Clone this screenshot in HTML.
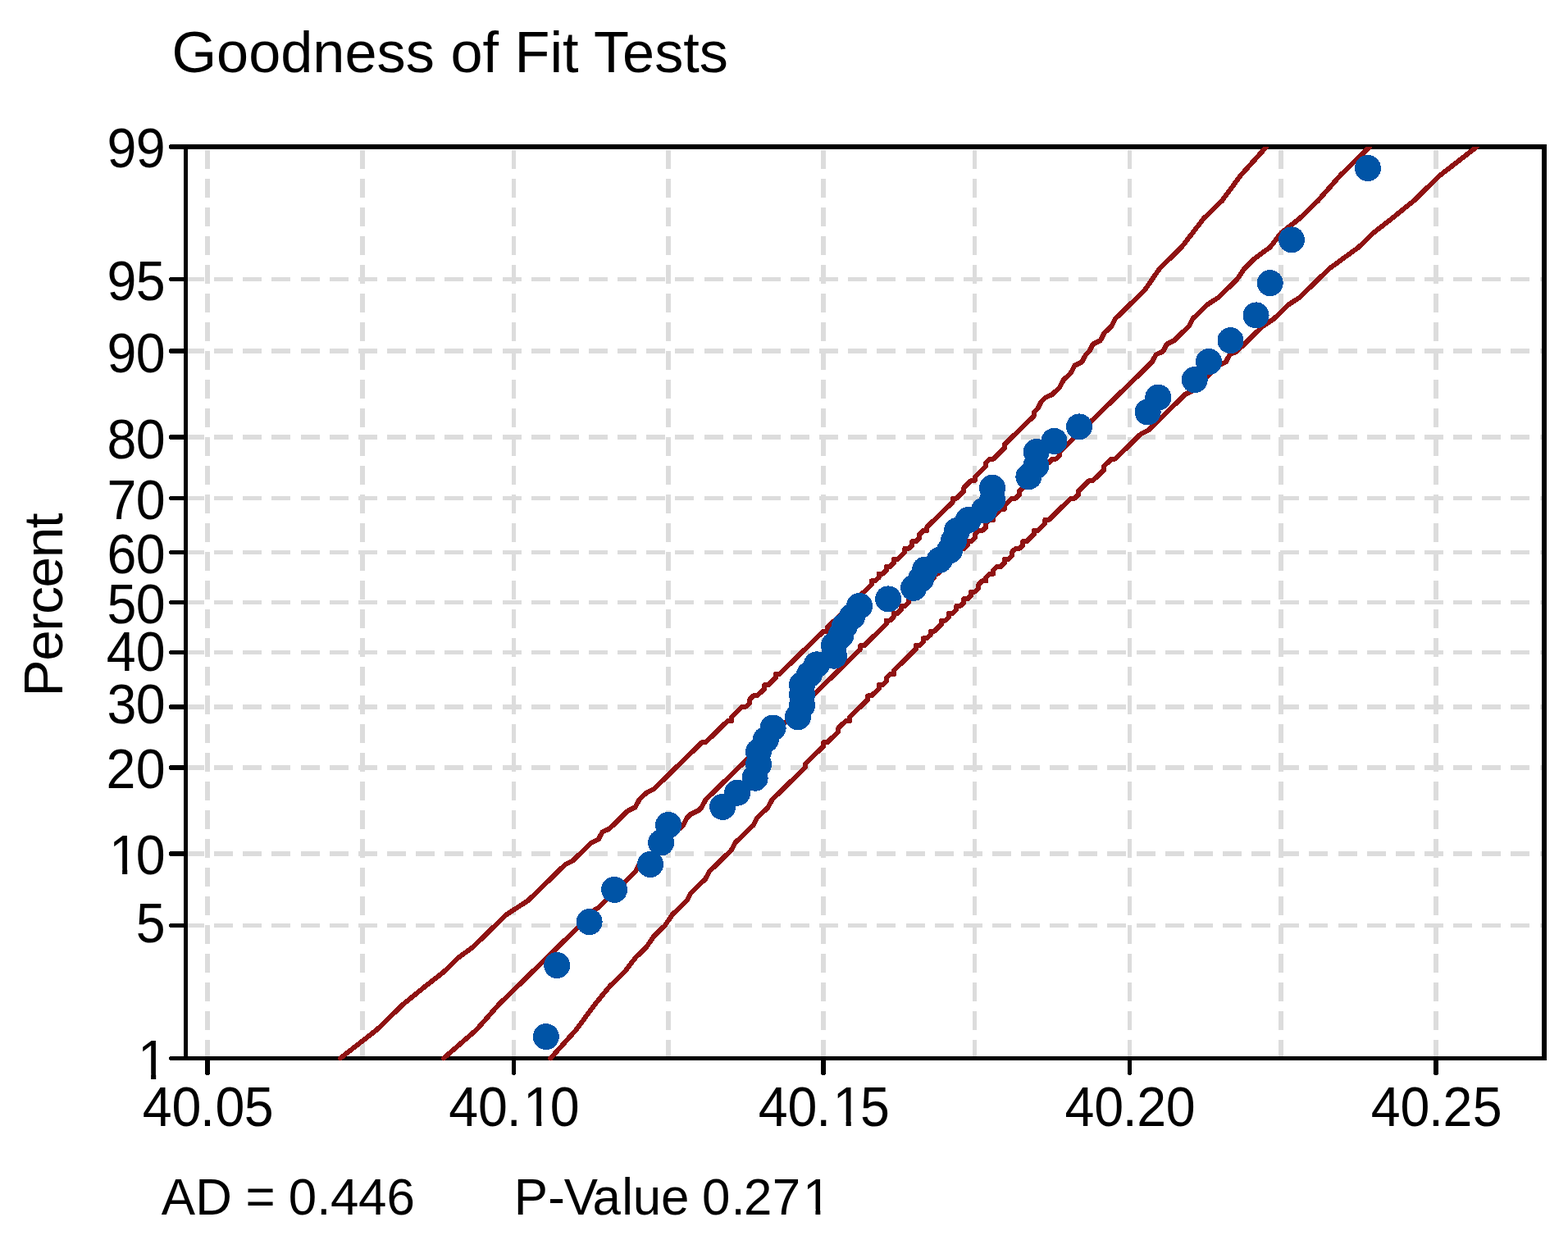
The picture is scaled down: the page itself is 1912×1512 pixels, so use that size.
<!DOCTYPE html>
<html><head><meta charset="utf-8"><title>Goodness of Fit Tests</title>
<style>
html,body{margin:0;padding:0;background:#fff;}
svg{display:block;font-family:"Liberation Sans",sans-serif;font-kerning:normal;}
</style></head><body>
<svg width="1912" height="1512" viewBox="0 0 1912 1512">
<rect width="1912" height="1512" fill="#fff"/>

<g stroke="#dcdcdc" fill="none" shape-rendering="crispEdges">
<line x1="253.0" y1="183" x2="253.0" y2="1290" stroke-width="6" stroke-dasharray="23 12"/>
<line x1="442.0" y1="183" x2="442.0" y2="1290" stroke-width="6" stroke-dasharray="23 12"/>
<line x1="626.5" y1="183" x2="626.5" y2="1290" stroke-width="5" stroke-dasharray="23 12"/>
<line x1="815.0" y1="183" x2="815.0" y2="1290" stroke-width="6" stroke-dasharray="23 12"/>
<line x1="1004.0" y1="183" x2="1004.0" y2="1290" stroke-width="6" stroke-dasharray="23 12"/>
<line x1="1188.5" y1="183" x2="1188.5" y2="1290" stroke-width="5" stroke-dasharray="23 12"/>
<line x1="1377.5" y1="183" x2="1377.5" y2="1290" stroke-width="5" stroke-dasharray="23 12"/>
<line x1="1562.0" y1="183" x2="1562.0" y2="1290" stroke-width="6" stroke-dasharray="23 12"/>
<line x1="1751.0" y1="183" x2="1751.0" y2="1290" stroke-width="6" stroke-dasharray="23 12"/>
<line x1="226" y1="340.5" x2="1883" y2="340.5" stroke-width="5" stroke-dasharray="23 12.14"/>
<line x1="226" y1="428.0" x2="1883" y2="428.0" stroke-width="6" stroke-dasharray="23 12.14"/>
<line x1="226" y1="533.0" x2="1883" y2="533.0" stroke-width="6" stroke-dasharray="23 12.14"/>
<line x1="226" y1="607.5" x2="1883" y2="607.5" stroke-width="5" stroke-dasharray="23 12.14"/>
<line x1="226" y1="673.5" x2="1883" y2="673.5" stroke-width="5" stroke-dasharray="23 12.14"/>
<line x1="226" y1="734.5" x2="1883" y2="734.5" stroke-width="5" stroke-dasharray="23 12.14"/>
<line x1="226" y1="795.5" x2="1883" y2="795.5" stroke-width="5" stroke-dasharray="23 12.14"/>
<line x1="226" y1="862.0" x2="1883" y2="862.0" stroke-width="6" stroke-dasharray="23 12.14"/>
<line x1="226" y1="936.0" x2="1883" y2="936.0" stroke-width="6" stroke-dasharray="23 12.14"/>
<line x1="226" y1="1041.0" x2="1883" y2="1041.0" stroke-width="6" stroke-dasharray="23 12.14"/>
<line x1="226" y1="1128.5" x2="1883" y2="1128.5" stroke-width="5" stroke-dasharray="23 12.14"/>
</g>
<g fill="#000" shape-rendering="crispEdges">
<rect x="224" y="176" width="1662" height="6"/>
<rect x="224" y="1288" width="1662" height="5"/>
<rect x="224" y="176" width="5" height="1117"/>
<rect x="1880" y="176" width="6" height="1117"/>
</g>
<g stroke="#000" fill="none" stroke-linecap="round" shape-rendering="crispEdges">
<line x1="208.5" y1="340.5" x2="226" y2="340.5" stroke-width="5"/>
<line x1="209.0" y1="428.0" x2="226" y2="428.0" stroke-width="6"/>
<line x1="209.0" y1="533.0" x2="226" y2="533.0" stroke-width="6"/>
<line x1="208.5" y1="607.5" x2="226" y2="607.5" stroke-width="5"/>
<line x1="208.5" y1="673.5" x2="226" y2="673.5" stroke-width="5"/>
<line x1="208.5" y1="734.5" x2="226" y2="734.5" stroke-width="5"/>
<line x1="208.5" y1="795.5" x2="226" y2="795.5" stroke-width="5"/>
<line x1="209.0" y1="862.0" x2="226" y2="862.0" stroke-width="6"/>
<line x1="209.0" y1="936.0" x2="226" y2="936.0" stroke-width="6"/>
<line x1="209.0" y1="1041.0" x2="226" y2="1041.0" stroke-width="6"/>
<line x1="208.5" y1="1128.5" x2="226" y2="1128.5" stroke-width="5"/>
<line x1="209.0" y1="179.0" x2="226" y2="179.0" stroke-width="6"/>
<line x1="208.5" y1="1290.5" x2="226" y2="1290.5" stroke-width="5"/>
<line x1="253.0" y1="1292" x2="253.0" y2="1308.0" stroke-width="6"/>
<line x1="626.5" y1="1292" x2="626.5" y2="1308.5" stroke-width="5"/>
<line x1="1004.0" y1="1292" x2="1004.0" y2="1308.0" stroke-width="6"/>
<line x1="1377.5" y1="1292" x2="1377.5" y2="1308.5" stroke-width="5"/>
<line x1="1751.0" y1="1292" x2="1751.0" y2="1308.0" stroke-width="6"/>
</g>
<clipPath id="pc"><rect x="226.6" y="179.0" width="1656.4" height="1114.2"/></clipPath>
<g clip-path="url(#pc)" shape-rendering="crispEdges" stroke="#8f1212" stroke-width="6" fill="none" stroke-linejoin="round" stroke-linecap="round">
<path d="M414.8,1290.5 L459.8,1255.4 L491.3,1224.8 L518.3,1202.9 L540.8,1185.4 L558.8,1167.9 L576.8,1154.7 L590.3,1141.6 L603.8,1128.5 L617.3,1115.4 L630.8,1106.6 L644.3,1097.8 L653.3,1089.1 L662.3,1080.3 L671.3,1071.6 L680.3,1062.8 L689.3,1054.1 L698.3,1049.7 L707.3,1041.0 L711.8,1036.6 L720.8,1027.8 L729.8,1023.5 L734.3,1014.7 L743.3,1010.3 L747.8,1006.0 L756.8,997.2 L761.3,992.8 L765.8,988.5 L774.8,984.1 L779.3,975.3 L783.8,970.9 L788.3,966.6 L797.3,962.2 L801.8,957.8 L806.3,953.4 L810.8,949.1 L815.3,944.7 L819.8,940.3 L824.3,935.9 L828.8,931.6 L833.3,927.2 L837.8,922.8 L842.3,918.4 L846.8,914.1 L851.3,909.7 L855.8,905.3 L860.3,905.3 L864.8,900.9 L869.3,896.6 L873.8,892.2 L878.3,887.8 L882.8,883.4 L887.3,879.1 L891.8,879.1 L891.8,874.7 L896.3,870.3 L900.8,865.9 L905.3,861.5 L909.8,861.5 L914.3,857.2 L914.3,852.8 L918.8,848.4 L923.3,848.4 L927.8,844.0 L932.3,839.7 L932.3,835.3 L936.8,835.3 L941.3,830.9 L945.8,826.5 L945.8,822.2 L950.3,822.2 L954.8,817.8 L959.3,813.4 L963.8,809.0 L968.3,804.7 L972.8,800.3 L977.3,795.9 L981.8,791.5 L986.3,787.2 L990.8,782.8 L995.3,778.4 L999.8,774.0 L1004.3,769.7 L1008.8,769.7 L1008.8,765.3 L1013.3,760.9 L1017.8,756.5 L1022.3,752.1 L1026.8,747.8 L1031.3,743.4 L1035.8,739.0 L1040.3,734.6 L1044.8,730.3 L1049.3,725.9 L1053.8,721.5 L1058.3,717.1 L1062.8,712.8 L1062.8,708.4 L1067.3,708.4 L1071.8,704.0 L1071.8,699.6 L1076.3,699.6 L1080.8,695.3 L1080.8,690.9 L1085.3,690.9 L1089.8,686.5 L1089.8,682.1 L1094.3,682.1 L1098.8,677.8 L1103.3,673.4 L1103.3,669.0 L1107.8,669.0 L1112.3,664.6 L1112.3,660.3 L1116.8,660.3 L1121.3,655.9 L1121.3,651.5 L1125.8,647.1 L1130.3,647.1 L1130.3,642.7 L1134.8,638.4 L1139.3,634.0 L1143.8,629.6 L1148.3,625.2 L1152.8,620.9 L1157.3,616.5 L1161.8,612.1 L1161.8,607.7 L1166.3,607.7 L1170.8,603.4 L1175.3,599.0 L1175.3,594.6 L1179.8,590.2 L1184.3,585.9 L1188.8,585.9 L1188.8,581.5 L1193.3,577.1 L1197.8,572.7 L1202.3,568.4 L1202.3,564.0 L1206.8,559.6 L1211.3,559.6 L1215.8,555.2 L1220.3,550.9 L1224.8,546.5 L1224.8,542.1 L1229.3,537.7 L1233.8,533.3 L1238.3,529.0 L1242.8,524.6 L1247.3,520.2 L1251.8,515.8 L1256.3,511.5 L1260.8,507.1 L1260.8,502.7 L1265.3,498.3 L1269.8,489.6 L1274.3,485.2 L1283.3,480.8 L1287.8,476.5 L1292.3,472.1 L1296.8,463.3 L1301.3,459.0 L1305.8,454.6 L1310.3,445.8 L1319.3,441.5 L1323.8,432.7 L1328.3,428.3 L1332.8,419.6 L1341.8,415.2 L1346.3,406.4 L1355.3,397.7 L1359.8,388.9 L1368.8,380.2 L1377.8,371.4 L1386.8,362.7 L1395.8,353.9 L1404.8,340.8 L1413.8,327.7 L1427.3,314.5 L1440.8,301.4 L1454.3,283.9 L1467.8,266.4 L1490.3,244.5 L1512.8,213.9 L1544.3,179.0"/>
<path d="M540.8,1290.5 L581.3,1255.4 L608.3,1224.8 L630.8,1202.9 L648.8,1185.4 L666.8,1167.9 L680.3,1154.7 L693.8,1141.6 L707.3,1128.5 L716.3,1115.4 L729.8,1106.6 L738.8,1097.8 L747.8,1089.1 L756.8,1080.3 L765.8,1071.6 L774.8,1062.8 L779.3,1054.1 L788.3,1049.7 L797.3,1041.0 L801.8,1036.6 L810.8,1027.8 L815.3,1023.5 L819.8,1014.7 L828.8,1010.3 L833.3,1006.0 L837.8,997.2 L842.3,992.8 L851.3,988.5 L855.8,984.1 L860.3,975.3 L864.8,970.9 L869.3,966.6 L873.8,962.2 L878.3,957.8 L882.8,953.4 L887.3,949.1 L891.8,944.7 L896.3,940.3 L900.8,935.9 L905.3,931.6 L909.8,927.2 L914.3,922.8 L918.8,918.4 L923.3,914.1 L927.8,909.7 L932.3,905.3 L936.8,905.3 L936.8,900.9 L941.3,896.6 L945.8,892.2 L950.3,887.8 L954.8,883.4 L959.3,879.1 L963.8,874.7 L968.3,870.3 L972.8,865.9 L977.3,861.5 L981.8,857.2 L986.3,852.8 L990.8,848.4 L995.3,844.0 L999.8,839.7 L1004.3,835.3 L1008.8,830.9 L1013.3,826.5 L1017.8,822.2 L1022.3,817.8 L1026.8,813.4 L1031.3,809.0 L1035.8,804.7 L1040.3,800.3 L1044.8,795.9 L1049.3,791.5 L1049.3,787.2 L1053.8,787.2 L1058.3,782.8 L1062.8,778.4 L1067.3,774.0 L1071.8,769.7 L1076.3,765.3 L1080.8,760.9 L1080.8,756.5 L1085.3,756.5 L1089.8,752.1 L1089.8,747.8 L1094.3,747.8 L1098.8,743.4 L1098.8,739.0 L1103.3,739.0 L1107.8,734.6 L1107.8,730.3 L1112.3,730.3 L1116.8,725.9 L1116.8,721.5 L1121.3,721.5 L1125.8,717.1 L1125.8,712.8 L1130.3,708.4 L1134.8,708.4 L1139.3,704.0 L1139.3,699.6 L1143.8,699.6 L1148.3,695.3 L1148.3,690.9 L1152.8,690.9 L1157.3,686.5 L1157.3,682.1 L1161.8,682.1 L1166.3,677.8 L1166.3,673.4 L1170.8,669.0 L1175.3,669.0 L1179.8,664.6 L1179.8,660.3 L1184.3,660.3 L1188.8,655.9 L1188.8,651.5 L1193.3,647.1 L1197.8,647.1 L1202.3,642.7 L1202.3,638.4 L1206.8,634.0 L1211.3,634.0 L1211.3,629.6 L1215.8,625.2 L1220.3,620.9 L1224.8,620.9 L1224.8,616.5 L1229.3,612.1 L1233.8,607.7 L1238.3,607.7 L1242.8,603.4 L1242.8,599.0 L1247.3,594.6 L1251.8,590.2 L1256.3,585.9 L1260.8,585.9 L1260.8,581.5 L1265.3,577.1 L1269.8,572.7 L1274.3,568.4 L1278.8,564.0 L1283.3,559.6 L1287.8,559.6 L1292.3,555.2 L1292.3,550.9 L1296.8,546.5 L1301.3,542.1 L1305.8,537.7 L1310.3,533.3 L1314.8,529.0 L1319.3,524.6 L1323.8,520.2 L1328.3,515.8 L1332.8,511.5 L1337.3,507.1 L1341.8,502.7 L1346.3,498.3 L1355.3,489.6 L1359.8,485.2 L1364.3,480.8 L1368.8,476.5 L1373.3,472.1 L1382.3,463.3 L1386.8,459.0 L1391.3,454.6 L1400.3,445.8 L1404.8,441.5 L1409.3,432.7 L1418.3,428.3 L1422.8,419.6 L1431.8,415.2 L1440.8,406.4 L1449.8,397.7 L1454.3,388.9 L1463.3,380.2 L1472.3,371.4 L1485.8,362.7 L1494.8,353.9 L1508.3,340.8 L1517.3,327.7 L1530.8,314.5 L1548.8,301.4 L1562.3,283.9 L1584.8,266.4 L1607.3,244.5 L1634.3,213.9 L1670.3,179.0"/>
<path d="M671.3,1290.5 L702.8,1255.4 L725.3,1224.8 L743.3,1202.9 L761.3,1185.4 L774.8,1167.9 L788.3,1154.7 L797.3,1141.6 L810.8,1128.5 L819.8,1115.4 L828.8,1106.6 L837.8,1097.8 L842.3,1089.1 L851.3,1080.3 L860.3,1071.6 L864.8,1062.8 L873.8,1054.1 L878.3,1049.7 L887.3,1041.0 L891.8,1036.6 L896.3,1027.8 L900.8,1023.5 L909.8,1014.7 L914.3,1010.3 L918.8,1006.0 L923.3,997.2 L927.8,992.8 L932.3,988.5 L936.8,984.1 L941.3,975.3 L945.8,970.9 L950.3,966.6 L954.8,962.2 L959.3,957.8 L963.8,953.4 L968.3,949.1 L972.8,944.7 L977.3,940.3 L981.8,935.9 L981.8,931.6 L986.3,927.2 L990.8,922.8 L995.3,918.4 L999.8,914.1 L1004.3,909.7 L1004.3,905.3 L1008.8,905.3 L1013.3,900.9 L1017.8,896.6 L1022.3,892.2 L1022.3,887.8 L1026.8,883.4 L1031.3,879.1 L1035.8,879.1 L1035.8,874.7 L1040.3,870.3 L1044.8,865.9 L1049.3,861.5 L1053.8,857.2 L1058.3,852.8 L1058.3,848.4 L1062.8,848.4 L1067.3,844.0 L1071.8,839.7 L1071.8,835.3 L1076.3,835.3 L1080.8,830.9 L1080.8,826.5 L1085.3,822.2 L1089.8,822.2 L1089.8,817.8 L1094.3,813.4 L1098.8,809.0 L1103.3,804.7 L1107.8,800.3 L1112.3,795.9 L1116.8,791.5 L1116.8,787.2 L1121.3,787.2 L1125.8,782.8 L1125.8,778.4 L1130.3,778.4 L1134.8,774.0 L1134.8,769.7 L1139.3,769.7 L1143.8,765.3 L1148.3,760.9 L1148.3,756.5 L1152.8,756.5 L1157.3,752.1 L1157.3,747.8 L1161.8,747.8 L1166.3,743.4 L1166.3,739.0 L1170.8,739.0 L1175.3,734.6 L1175.3,730.3 L1179.8,730.3 L1184.3,725.9 L1184.3,721.5 L1188.8,721.5 L1193.3,717.1 L1193.3,712.8 L1197.8,708.4 L1202.3,708.4 L1202.3,704.0 L1206.8,699.6 L1211.3,699.6 L1211.3,695.3 L1215.8,690.9 L1220.3,690.9 L1224.8,686.5 L1224.8,682.1 L1229.3,682.1 L1233.8,677.8 L1233.8,673.4 L1238.3,669.0 L1242.8,669.0 L1247.3,664.6 L1247.3,660.3 L1251.8,660.3 L1256.3,655.9 L1260.8,651.5 L1260.8,647.1 L1265.3,647.1 L1269.8,642.7 L1274.3,638.4 L1274.3,634.0 L1278.8,634.0 L1283.3,629.6 L1287.8,625.2 L1292.3,620.9 L1296.8,616.5 L1301.3,612.1 L1305.8,607.7 L1310.3,607.7 L1314.8,603.4 L1314.8,599.0 L1319.3,594.6 L1323.8,590.2 L1328.3,585.9 L1332.8,585.9 L1337.3,581.5 L1341.8,577.1 L1346.3,572.7 L1346.3,568.4 L1350.8,564.0 L1355.3,559.6 L1359.8,559.6 L1364.3,555.2 L1368.8,550.9 L1373.3,546.5 L1377.8,542.1 L1382.3,537.7 L1386.8,533.3 L1391.3,529.0 L1400.3,524.6 L1404.8,520.2 L1409.3,515.8 L1413.8,511.5 L1418.3,507.1 L1422.8,502.7 L1427.3,498.3 L1436.3,489.6 L1440.8,485.2 L1445.3,480.8 L1454.3,476.5 L1458.8,472.1 L1463.3,463.3 L1472.3,459.0 L1476.8,454.6 L1485.8,445.8 L1494.8,441.5 L1499.3,432.7 L1508.3,428.3 L1517.3,419.6 L1521.8,415.2 L1530.8,406.4 L1539.8,397.7 L1553.3,388.9 L1562.3,380.2 L1571.3,371.4 L1584.8,362.7 L1593.8,353.9 L1607.3,340.8 L1620.8,327.7 L1638.8,314.5 L1656.8,301.4 L1674.8,283.9 L1697.3,266.4 L1724.3,244.5 L1755.8,213.9 L1800.8,179.0"/>
</g>
<g fill="#0054a6" shape-rendering="crispEdges">
<circle cx="665.9" cy="1264.1" r="16"/>
<circle cx="679.2" cy="1177" r="16"/>
<circle cx="718.6" cy="1124.1" r="16"/>
<circle cx="749.1" cy="1084.9" r="16"/>
<circle cx="793" cy="1053.9" r="16"/>
<circle cx="806.1" cy="1027.5" r="16"/>
<circle cx="815.1" cy="1006" r="16"/>
<circle cx="881.1" cy="983.9" r="16"/>
<circle cx="899.1" cy="966.7" r="16"/>
<circle cx="920.6" cy="948.7" r="16"/>
<circle cx="925" cy="932.2" r="16"/>
<circle cx="925" cy="916.6" r="16"/>
<circle cx="933.9" cy="901.7" r="16"/>
<circle cx="942.6" cy="887.5" r="16"/>
<circle cx="973" cy="874.3" r="16"/>
<circle cx="978" cy="860.3" r="16"/>
<circle cx="978" cy="847.3" r="16"/>
<circle cx="978" cy="834.7" r="16"/>
<circle cx="987" cy="822.4" r="16"/>
<circle cx="996" cy="810.3" r="16"/>
<circle cx="1017" cy="799.7" r="16"/>
<circle cx="1017" cy="786.6" r="16"/>
<circle cx="1025.3" cy="774.9" r="16"/>
<circle cx="1030" cy="763.4" r="16"/>
<circle cx="1039.1" cy="751.9" r="16"/>
<circle cx="1048.1" cy="738.9" r="16"/>
<circle cx="1083.1" cy="730.4" r="16"/>
<circle cx="1114.2" cy="716.8" r="16"/>
<circle cx="1123" cy="706.1" r="16"/>
<circle cx="1128" cy="694.6" r="16"/>
<circle cx="1145.6" cy="682.9" r="16"/>
<circle cx="1158" cy="671.2" r="16"/>
<circle cx="1163" cy="659.2" r="16"/>
<circle cx="1167" cy="647.1" r="16"/>
<circle cx="1180.8" cy="634" r="16"/>
<circle cx="1200" cy="622.2" r="16"/>
<circle cx="1210.2" cy="609.2" r="16"/>
<circle cx="1210" cy="594.8" r="16"/>
<circle cx="1254.4" cy="581.2" r="16"/>
<circle cx="1263.4" cy="567.8" r="16"/>
<circle cx="1263.7" cy="551" r="16"/>
<circle cx="1285.5" cy="537.9" r="16"/>
<circle cx="1316" cy="520.4" r="16"/>
<circle cx="1399.7" cy="502.5" r="16"/>
<circle cx="1412.3" cy="484.7" r="16"/>
<circle cx="1456.7" cy="463.1" r="16"/>
<circle cx="1474" cy="441.1" r="16"/>
<circle cx="1500.5" cy="415.1" r="16"/>
<circle cx="1531.6" cy="384.4" r="16"/>
<circle cx="1548.7" cy="345.1" r="16"/>
<circle cx="1575" cy="292.4" r="16"/>
<circle cx="1667.9" cy="205" r="16"/>
</g>
<g fill="#000">
<text transform="translate(209.4,88.2) scale(1.0045,1)" font-size="70">Goodness of Fit Tests</text>
<text transform="scale(0.93,1)" x="140.32 178.12" y="366.3" font-size="69.4">95</text>
<text transform="scale(0.93,1)" x="140.32 178.12" y="454.5" font-size="69.4">90</text>
<text transform="scale(0.93,1)" x="140.32 178.12" y="559.3" font-size="69.4">80</text>
<text transform="scale(0.93,1)" x="140.32 178.12" y="633.2" font-size="69.4">70</text>
<text transform="scale(0.93,1)" x="140.32 178.12" y="699.5" font-size="69.4">60</text>
<text transform="scale(0.93,1)" x="140.32 178.12" y="760.3" font-size="69.4">50</text>
<text transform="scale(0.93,1)" x="139.57 178.12" y="817.5" font-size="69.4">40</text>
<text transform="scale(0.93,1)" x="140.22 178.12" y="882.5" font-size="69.4">30</text>
<text transform="scale(0.93,1)" x="139.25 178.12" y="961.2" font-size="69.4">20</text>
<text transform="scale(0.93,1)" x="143.12 178.12" y="1066.3" font-size="69.4">10</text>
<text transform="scale(0.93,1)" x="178.12" y="1149.5" font-size="69.4">5</text>
<text transform="scale(0.93,1)" x="140.32 178.12" y="204.3" font-size="69.4">99</text>
<text transform="scale(0.93,1)" x="180.72" y="1316.0" font-size="69.4">1</text>
<text transform="scale(0.93,1)" x="186.77 225.22 262.47 282.31 320.22" y="1373.3" font-size="69.4">40.05</text>
<text transform="scale(0.93,1)" x="588.49 626.94 664.19 686.13 721.13" y="1373.3" font-size="69.4">40.10</text>
<text transform="scale(0.93,1)" x="994.41 1032.85 1070.11 1092.04 1127.85" y="1373.3" font-size="69.4">40.15</text>
<text transform="scale(0.93,1)" x="1396.13 1434.57 1471.83 1490.65 1528.76" y="1373.3" font-size="69.4">40.20</text>
<text transform="scale(0.93,1)" x="1797.53 1835.97 1873.23 1892.04 1930.97" y="1373.3" font-size="69.4">40.25</text>
<text transform="translate(76.0,849.4) rotate(-90)" font-size="67.5" style="letter-spacing:-1.45px">Percent</text>
<text transform="scale(0.9896,1)" x="198.84 240.71 285.85 302.66 339.15 355.40 390.42 407.18 441.64 476.39" y="1481" font-size="62.5">AD = 0.446</text>
<text transform="scale(0.9896,1)" x="633.46 675.32 695.10 730.08 766.18 779.96 814.38 849.14 864.95 900.98 916.43 951.62 989.37" y="1481" font-size="62.5">P-Value 0.271</text>
</g>
<g fill="#fff">
<rect x="136.02" y="1059.12" width="13.11" height="8.38"/>
<rect x="155.23" y="1059.12" width="12.61" height="8.38"/>
<rect x="170.99" y="1308.82" width="13.11" height="8.38"/>
<rect x="190.20" y="1308.82" width="12.61" height="8.38"/>
<rect x="641.02" y="1366.12" width="13.11" height="8.38"/>
<rect x="660.23" y="1366.12" width="12.61" height="8.38"/>
<rect x="1018.52" y="1366.12" width="13.11" height="8.38"/>
<rect x="1037.73" y="1366.12" width="12.61" height="8.38"/>
<rect x="981.79" y="1474.33" width="12.64" height="7.87"/>
<rect x="1000.30" y="1474.33" width="12.16" height="7.87"/>
</g>
</svg></body></html>
